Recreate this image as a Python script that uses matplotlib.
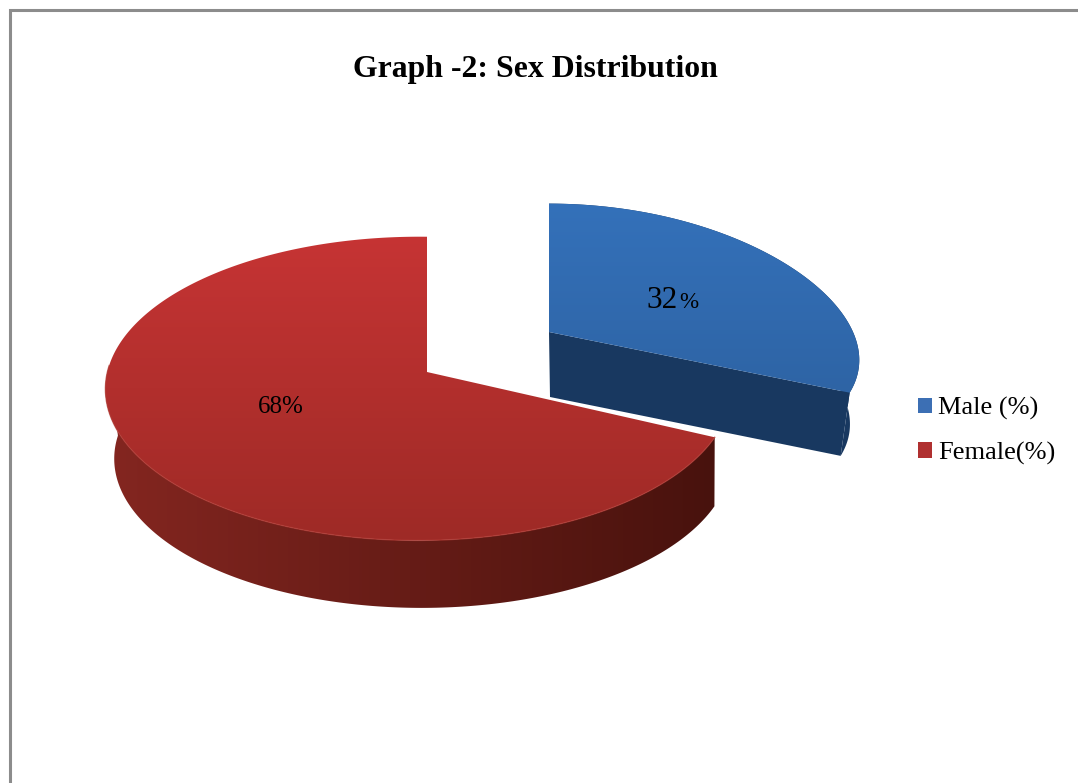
import numpy as np
import matplotlib
matplotlib.use("Agg")
import matplotlib.pyplot as plt
from matplotlib.patches import Patch, Polygon

plt.rcParams['font.family'] = ['Liberation Serif', 'DejaVu Sans']

# chart data
categories = ["Male (%)", "Female(%)"]
shares = [32, 68]
title = "Graph -2: Sex Distribution"

# disk geometry, one entry per slice (pixels), Excel style tilted pie
centers = [(549, 332), (427, 372)]
x_radius = [304, 311]
y_radius = [138, 150]
persp_x = [0.2, 0.109]
persp_y = [0.075, 0.109]
skew = [0.0, 0.027]
depth = [65, 70]
low_scale = [0.97, 0.985]
low_shift = [0, 4]

top_cols = [((52, 113, 186), (46, 100, 165)), ((198, 52, 52), (158, 42, 38))]
side_cols = [((24, 56, 96), (24, 56, 96)), ((132, 38, 32), (72, 18, 13))]
legend_cols = ["#3c6fb4", "#b03030"]


def disk(i, theta, low=False):
    # theta clockwise from 12 o'clock, projected with a little perspective
    s, c = np.sin(theta), np.cos(theta)
    x = x_radius[i] * s / (1 + persp_x[i] * c + skew[i] * s)
    y = -y_radius[i] * c / (1 + persp_y[i] * c + skew[i] * s)
    if low:
        return (centers[i][0] + low_shift[i] + x * low_scale[i],
                centers[i][1] + depth[i] + y * low_scale[i])
    return centers[i][0] + x, centers[i][1] + y


def gradient(ax, poly, c0, c1, vertical=True):
    # fill a polygon with a two colour ramp, clipped to its outline
    xs, ys = poly[:, 0], poly[:, 1]
    ramp = np.linspace(0, 1, 256)[:, None, None]
    img = np.array(c0)[None, None, :] * (1 - ramp) + np.array(c1)[None, None, :] * ramp
    img = img / 255.0
    if not vertical:
        img = img.transpose(1, 0, 2)
    im = ax.imshow(img, extent=(xs.min(), xs.max(), ys.max(), ys.min()),
                   aspect='auto', interpolation='bilinear', zorder=2)
    clip = Polygon(poly, closed=True, transform=ax.transData)
    im.set_clip_path(clip)


fig = plt.figure(figsize=(10.78, 7.83), dpi=100)
ax = fig.add_axes([0, 0, 1, 1])

# slice angles
edges = np.concatenate([[0], np.cumsum(shares)]) / np.sum(shares) * 2 * np.pi

for i in range(len(shares)):
    t = np.linspace(edges[i], edges[i + 1], 300)
    tx, ty = disk(i, t)
    bx, by = disk(i, t, low=True)
    cx, cy = centers[i]

    # inner cut face of the exploded blue slice
    if i == 0:
        face = np.array([[cx, cy], [tx[-1], ty[-1]], [bx[-1], by[-1]], [cx + 1, cy + depth[i]]])
        ax.add_patch(Polygon(face, closed=True, fc=np.array(side_cols[i][0]) / 255, ec='none', zorder=2))
        rim = np.r_[np.c_[tx, ty], np.c_[bx, by][::-1]]
        gradient(ax, rim, side_cols[i][0], side_cols[i][1], vertical=False)
    else:
        # only the front of the rim shows
        front = np.cos(t) < 0.05
        rim = np.r_[np.c_[tx[front], ty[front]], np.c_[bx[front], by[front]][::-1]]
        gradient(ax, rim, side_cols[i][0], side_cols[i][1], vertical=False)

    top = np.r_[[[cx, cy]], np.c_[tx, ty]]
    gradient(ax, top, top_cols[i][0], top_cols[i][1])

    # faint bevel where the red top meets its rim
    if i == 1:
        ax.plot(tx[front], ty[front], color='#b23a34', lw=1.0, alpha=0.7, zorder=3)

ax.set_xlim(0, 1078)
ax.set_ylim(783, 0)
ax.axis('off')

# chart frame (no right or bottom side in the crop)
ax.plot([10, 10, 1078], [783, 10, 10], color='#8c8c8c', lw=2.2, solid_joinstyle='miter', zorder=5)

ax.text(535.5, 69, title, ha='center', va='center', fontsize=22.9, fontweight='bold', color='black')

# slice labels, the blue one has a smaller percent sign
ax.text(678, 308, str(shares[0]), ha='right', va='baseline', fontsize=22.4, color='black', zorder=6)
ax.text(679, 308, "%", ha='left', va='baseline', fontsize=16.6, color='black', zorder=6)
ax.text(258, 413, "%d%%" % shares[1], ha='left', va='baseline', fontsize=18, color='black', zorder=6)

handles = [Patch(fc=c, ec='none', label=l) for c, l in zip(legend_cols, categories)]
ax.legend(handles=handles, loc='center left', bbox_to_anchor=(918 / 1078, 1 - 431 / 783),
          frameon=False, fontsize=19, handlelength=0.53, handleheight=0.53,
          handletextpad=0.23, labelspacing=0.83, borderpad=0, borderaxespad=0)

fig.savefig("out.png", dpi=100)
